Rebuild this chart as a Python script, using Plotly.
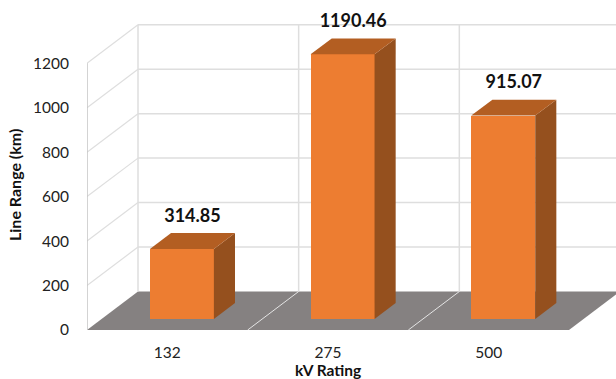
import plotly.graph_objects as go

# Line range per voltage rating
kv_ratings = ["132", "275", "500"]
line_range_km = [314.85, 1190.46, 915.07]
value_ticks = [0, 200, 400, 600, 800, 1000, 1200]

# Oblique projection of the box: one unit of depth moves a point by these axis amounts
DEPTH_X = 0.3174
DEPTH_Y = 173.2
BAR_WIDTH = 0.398
BAR_NEAR = 0.2857
BAR_FAR = 0.70
X_MIN, X_MAX = -0.5, 2.5

FONT = "Lato, Carlito, Calibri, sans-serif"
FRONT = "#ED7D31"
TOP = "#B35E22"
SIDE = "#95501E"
FLOOR = "#858181"
GRID = "#DEDEDE"
AXIS_LINE = "#C4C4C4"


def project(x, value, depth):
    return x + depth * DEPTH_X, value + depth * DEPTH_Y


def polygon(corners, color, zorder):
    pts = [project(*c) for c in corners]
    pts.append(pts[0])
    return go.Scatter(
        x=[p[0] for p in pts], y=[p[1] for p in pts],
        mode="lines", fill="toself", fillcolor=color,
        line=dict(width=0, color=color), hoverinfo="skip",
        showlegend=False, zorder=zorder,
    )


def segment(start, end, color, width, zorder):
    a, b = project(*start), project(*end)
    return go.Scatter(
        x=[a[0], b[0]], y=[a[1], b[1]], mode="lines",
        line=dict(color=color, width=width), hoverinfo="skip",
        showlegend=False, zorder=zorder,
    )


fig = go.Figure()
top_value = value_ticks[-1]

# Floor and its dividers
fig.add_trace(polygon([(X_MIN, 0, 0), (X_MAX, 0, 0), (X_MAX, 0, 1), (X_MIN, 0, 1)], FLOOR, 0))
for edge in (0.5, 1.5):
    fig.add_trace(segment((edge, 0, 0), (edge, 0, 1), "#E4E4E4", 1, 0))

# Back wall and side wall gridlines
for v in value_ticks[1:]:
    fig.add_trace(segment((X_MIN, v, 1), (X_MAX, v, 1), GRID, 1.5, 0))
    fig.add_trace(segment((X_MIN, v, 0), (X_MIN, v, 1), GRID, 1.2, 0))
for edge in (X_MIN, 0.5, 1.5):
    fig.add_trace(segment((edge, 0, 1), (edge, top_value, 1), GRID, 1.5, 0))
fig.add_trace(segment((X_MIN, 0, 0), (X_MIN, top_value, 0), AXIS_LINE, 1.5, 0))

# Front faces of the bars
positions = list(range(len(kv_ratings)))
fig.add_trace(go.Bar(
    x=[project(p, 0, BAR_NEAR)[0] for p in positions],
    y=line_range_km,
    base=project(0, 0, BAR_NEAR)[1],
    width=BAR_WIDTH,
    marker=dict(color=FRONT, line=dict(width=0)),
    hoverinfo="skip", showlegend=False, zorder=1,
))

# Top and side faces of the bars
half = BAR_WIDTH / 2
for p, v in zip(positions, line_range_km):
    fig.add_trace(polygon([(p + half, 0, BAR_NEAR), (p + half, 0, BAR_FAR),
                           (p + half, v, BAR_FAR), (p + half, v, BAR_NEAR)], SIDE, 2))
    fig.add_trace(polygon([(p - half, v, BAR_NEAR), (p + half, v, BAR_NEAR),
                           (p + half, v, BAR_FAR), (p - half, v, BAR_FAR)], TOP, 2))

# Value labels above each bar
fig.add_trace(go.Scatter(
    x=[project(p, 0, (BAR_NEAR + BAR_FAR) / 2)[0] for p in positions],
    y=[project(p, v, BAR_FAR)[1] + 72 for p, v in zip(positions, line_range_km)],
    mode="text",
    text=[f"{v:.2f}" for v in line_range_km],
    textposition="middle center",
    textfont=dict(family=FONT, size=18, color="#111111", weight="bold"),
    hoverinfo="skip", showlegend=False, zorder=3,
))

fig.update_layout(
    width=616, height=379,
    margin=dict(l=87, r=0, t=0, b=49, autoexpand=False),
    paper_bgcolor="white", plot_bgcolor="white",
    font=dict(family=FONT, size=15.5, color="#222222"),
    bargap=0,
    xaxis=dict(
        range=[X_MIN, 2.7925], tickmode="array", tickvals=positions, ticktext=kv_ratings,
        showgrid=False, zeroline=False, showline=False, ticks="",
        ticklabelstandoff=11, automargin=False,
    ),
    yaxis=dict(
        range=[0, 1484.5], tickmode="array", tickvals=value_ticks,
        showgrid=False, zeroline=False, showline=False, ticks="",
        ticklabelstandoff=17, automargin=False,
    ),
    annotations=[
        dict(text="<b>kV Rating</b>", xref="x", yref="paper", x=1.0, y=0,
             yshift=-50.5, showarrow=False, font=dict(size=15.5, color="#111111")),
        dict(text="<b>Line Range (km)</b>", xref="paper", yref="y", x=0, y=650,
             xshift=-84, textangle=-90, showarrow=False, font=dict(size=16, color="#111111")),
    ],
)

fig.write_html("out.html")
